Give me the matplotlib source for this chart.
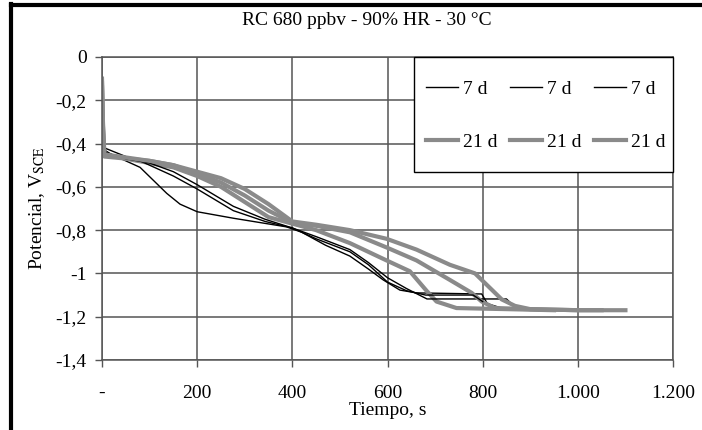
import numpy as np
import matplotlib.pyplot as plt
from matplotlib.lines import Line2D
from matplotlib.patches import Rectangle

plt.rcParams['font.family'] = 'Liberation Serif'
plt.rcParams['mathtext.fontset'] = 'stix'

# 7 d curves (thin black)
t_b1 = [0, 2, 5, 20, 60, 80, 108, 136, 164, 200, 276, 388, 420, 470, 521, 560, 591, 626, 661, 798, 810, 840]
v_b1 = [-0.15, -0.35, -0.43, -0.45, -0.49, -0.51, -0.57, -0.63, -0.68, -0.715, -0.745, -0.785, -0.81, -0.87, -0.92, -0.98, -1.03, -1.077, -1.09, -1.095, -1.14, -1.16]
t_b2 = [0, 2, 5, 50, 80, 150, 200, 276, 343, 400, 450, 521, 560, 600, 640, 683, 850, 870, 900]
v_b2 = [-0.12, -0.33, -0.42, -0.46, -0.48, -0.55, -0.61, -0.71, -0.76, -0.79, -0.83, -0.89, -0.95, -1.02, -1.07, -1.118, -1.118, -1.16, -1.17]
t_b3 = [0, 2, 5, 50, 100, 150, 200, 276, 343, 400, 450, 521, 560, 600, 640, 680, 780, 800]
v_b3 = [-0.18, -0.36, -0.44, -0.47, -0.49, -0.53, -0.59, -0.69, -0.75, -0.79, -0.84, -0.90, -0.96, -1.04, -1.08, -1.10, -1.10, -1.13]

# 21 d curves (thick grey)
t_g1 = [0, 2, 5, 50, 100, 150, 200, 250, 300, 350, 400, 450, 521, 598, 647, 682, 703, 745, 850, 950]
v_g1 = [-0.10, -0.30, -0.45, -0.47, -0.49, -0.51, -0.55, -0.60, -0.67, -0.74, -0.77, -0.80, -0.86, -0.94, -0.99, -1.08, -1.13, -1.16, -1.165, -1.17]
t_g2 = [0, 2, 5, 100, 150, 200, 250, 300, 350, 400, 450, 521, 598, 661, 731, 777, 798, 826, 900, 1000, 1050]
v_g2 = [-0.12, -0.32, -0.46, -0.48, -0.50, -0.54, -0.58, -0.64, -0.71, -0.765, -0.78, -0.81, -0.88, -0.94, -1.03, -1.09, -1.13, -1.16, -1.165, -1.17, -1.17]
t_g3 = [0, 2, 5, 100, 150, 200, 250, 300, 350, 400, 450, 521, 598, 661, 731, 784, 812, 840, 868, 900, 1000, 1100]
v_g3 = [-0.14, -0.34, -0.45, -0.48, -0.50, -0.53, -0.56, -0.61, -0.68, -0.76, -0.775, -0.80, -0.84, -0.89, -0.96, -1.00, -1.06, -1.12, -1.15, -1.165, -1.17, -1.17]

x_ticks = [0, 200, 400, 600, 800, 1000, 1200]
x_labels = ['-', '200', '400', '600', '800', '1.000', '1.200']
y_ticks = [0, -0.2, -0.4, -0.6, -0.8, -1.0, -1.2, -1.4]
y_labels = ['0', '-0,2', '-0,4', '-0,6', '-0,8', '-1', '-1,2', '-1,4']

fig = plt.figure(figsize=(7.02, 4.30), dpi=100)
ax = fig.add_axes([0.1453, 0.1628, 0.8134, 0.7047])

black = dict(color='black', lw=1.0)
grey = dict(color='#8a8a8a', lw=3.0)
# order so that legend rows read 7 d x3 / 21 d x3
ax.plot(t_b1, v_b1, label='7 d', **black)
ax.plot(t_g1, v_g1, label='21 d', **grey)
ax.plot(t_b2, v_b2, label='7 d', **black)
ax.plot(t_g2, v_g2, label='21 d', **grey)
ax.plot(t_b3, v_b3, label='7 d', **black)
ax.plot(t_g3, v_g3, label='21 d', **grey)

ax.set_xlim(0, 1200)
ax.set_ylim(-1.4, 0)
ax.set_xticks(x_ticks)
ax.set_xticklabels(x_labels)
ax.set_yticks(y_ticks)
ax.set_yticklabels(y_labels)
ax.tick_params(labelsize=14, length=5, color='#555555', width=1)
ax.tick_params(axis='y', pad=6)
ax.tick_params(axis='x', pad=13)
ax.grid(True, color='#555555', lw=1.1)
ax.set_axisbelow(True)
for s in ax.spines.values():
    s.set_color('#555555')
    s.set_linewidth(1.1)

ax.set_xlabel('Tiempo, s', fontsize=14, labelpad=0)
ax.set_ylabel(r'Potencial, V$_{\mathrm{SCE}}$', fontsize=14, labelpad=6)
fig.text(0.523, 0.953, 'RC 680 ppbv - 90% HR - 30 °C', ha='center', va='center', fontsize=14)

# legend box
ax.add_patch(Rectangle((0.546, 0.62), 0.454, 0.38, transform=ax.transAxes,
                       facecolor='white', edgecolor='black', lw=1.0, zorder=4,
                       clip_on=False))
leg = ax.legend(ncol=3, loc='center', bbox_to_anchor=(0.777, 0.807), fontsize=14,
                frameon=False, handlelength=1.65, handletextpad=0.26,
                columnspacing=0.62, labelspacing=1.8, borderpad=0)
leg.set_zorder(5)

fig.add_artist(Line2D([0.0157, 0.0157], [0, 0.99], color='black', lw=3))
fig.add_artist(Line2D([0.0157, 1.0], [0.9895, 0.9895], color='black', lw=3))

fig.savefig('out.png', dpi=100)
